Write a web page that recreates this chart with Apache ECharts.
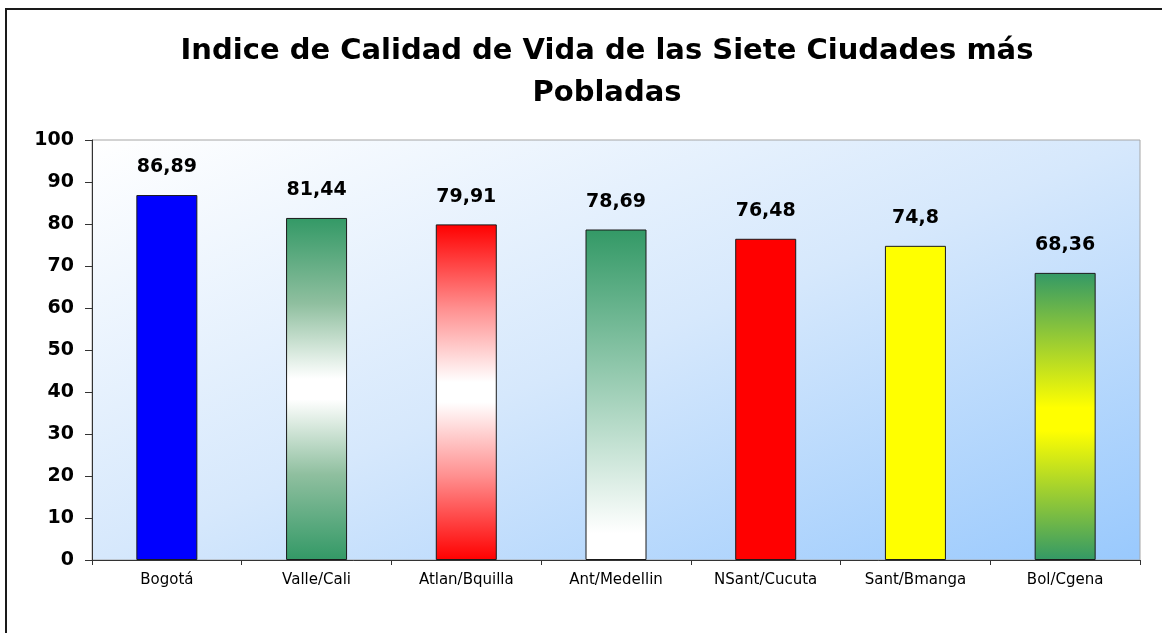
<!DOCTYPE html>
<html>
<head>
<meta charset="utf-8">
<style>
  html, body { margin: 0; padding: 0; background: #ffffff; }
  #chart { width: 1162px; height: 633px; }
</style>
<script src="https://cdn.jsdelivr.net/npm/echarts@6/dist/echarts.min.js"></script>
</head>
<body>
<div id="chart"></div>
<script>
// Índice de Calidad de Vida: siete ciudades más pobladas
const cities = ['Bogotá', 'Valle/Cali', 'Atlan/Bquilla', 'Ant/Medellin', 'NSant/Cucuta', 'Sant/Bmanga', 'Bol/Cgena'];
const icv = [86.89, 81.44, 79.91, 78.69, 76.48, 74.8, 68.36];
const yTicks = [0, 10, 20, 30, 40, 50, 60, 70, 80, 90, 100];

const GREEN = '#339966';
const RED = '#ff0000';
const BLUE = '#0000ff';
const YELLOW = '#ffff00';

function vgrad(stops) {
  return new echarts.graphic.LinearGradient(0, 0, 0, 1,
    stops.map(s => ({ offset: s[0], color: s[1] })));
}

// fill for each bar, in city order
const fills = [
  BLUE,
  vgrad([[0, GREEN], [0.25, '#8fbf9f'], [0.47, '#ffffff'], [0.53, '#ffffff'], [0.75, '#8fbf9f'], [1, GREEN]]),
  vgrad([[0, RED], [0.25, '#ff8f8f'], [0.47, '#ffffff'], [0.53, '#ffffff'], [0.75, '#ff8f8f'], [1, RED]]),
  vgrad([[0, GREEN], [0.92, '#ffffff'], [1, '#ffffff']]),
  RED,
  YELLOW,
  vgrad([[0, GREEN], [0.47, YELLOW], [0.55, YELLOW], [1, GREEN]])
];

// plot box in pixels
const G = { left: 92, top: 140, right: 22, bottom: 73 };
const W = 1162 - G.left - G.right;
const H = 633 - G.top - G.bottom;

// corner-to-corner wash: even tone along the bottom-left / top-right diagonal
const len = Math.hypot(W, H);
const ux = H / len, uy = W / len;
const reach = (W * ux + H * uy);
const plotWash = new echarts.graphic.LinearGradient(
  G.left, G.top, G.left + ux * reach, G.top + uy * reach,
  [
    { offset: 0, color: '#ffffff' },
    { offset: 0.5, color: '#d6e8fc' },
    { offset: 1, color: '#99c9fd' }
  ],
  true
);

const chart = echarts.init(document.getElementById('chart'), null, { renderer: 'canvas' });

const fmt = v => String(v).replace('.', ',');

chart.setOption({
  animation: false,
  backgroundColor: '#ffffff',
  title: {
    text: 'Indice de Calidad de Vida de las Siete Ciudades más\nPobladas',
    left: 602,
    top: 25,
    textAlign: 'center',
    textStyle: {
      fontFamily: 'DejaVu Sans',
      fontWeight: 'bold',
      fontSize: 29,
      lineHeight: 42,
      color: '#000000'
    }
  },
  graphic: [{
    type: 'rect',
    silent: true,
    z: -1,
    shape: { x: 6, y: 9, width: 1170, height: 640 },
    style: { fill: 'none', stroke: '#1a1a1a', lineWidth: 2 }
  }],
  grid: {
    left: G.left,
    right: G.right,
    top: G.top,
    bottom: G.bottom,
    show: true,
    backgroundColor: plotWash,
    borderColor: '#a6a6a6',
    borderWidth: 1
  },
  xAxis: {
    type: 'category',
    data: cities,
    axisLine: { lineStyle: { color: '#333333', width: 1 } },
    axisTick: { show: true, length: 5, alignWithLabel: false, lineStyle: { color: '#333333' } },
    axisLabel: {
      margin: 13,
      fontFamily: 'DejaVu Sans',
      fontSize: 15,
      color: '#000000'
    }
  },
  yAxis: {
    type: 'value',
    min: 0,
    max: 100,
    interval: 10,
    splitLine: { show: false },
    axisLine: { show: true, lineStyle: { color: '#333333', width: 1 } },
    axisTick: { show: true, length: 7, lineStyle: { color: '#333333' } },
    axisLabel: {
      margin: 18,
      fontFamily: 'DejaVu Sans',
      fontWeight: 'bold',
      fontSize: 19,
      color: '#000000',
      formatter: v => (yTicks.includes(v) ? String(v) : '')
    }
  },
  series: [{
    type: 'bar',
    barWidth: 61,
    data: icv.map((v, i) => ({
      value: v,
      itemStyle: { color: fills[i] }
    })),
    itemStyle: { borderColor: '#1a1a1a', borderWidth: 1 },
    label: {
      show: true,
      position: 'top',
      distance: 18,
      fontFamily: 'DejaVu Sans',
      fontWeight: 'bold',
      fontSize: 19,
      color: '#000000',
      formatter: p => fmt(p.value)
    }
  }]
});
</script>
</body>
</html>
